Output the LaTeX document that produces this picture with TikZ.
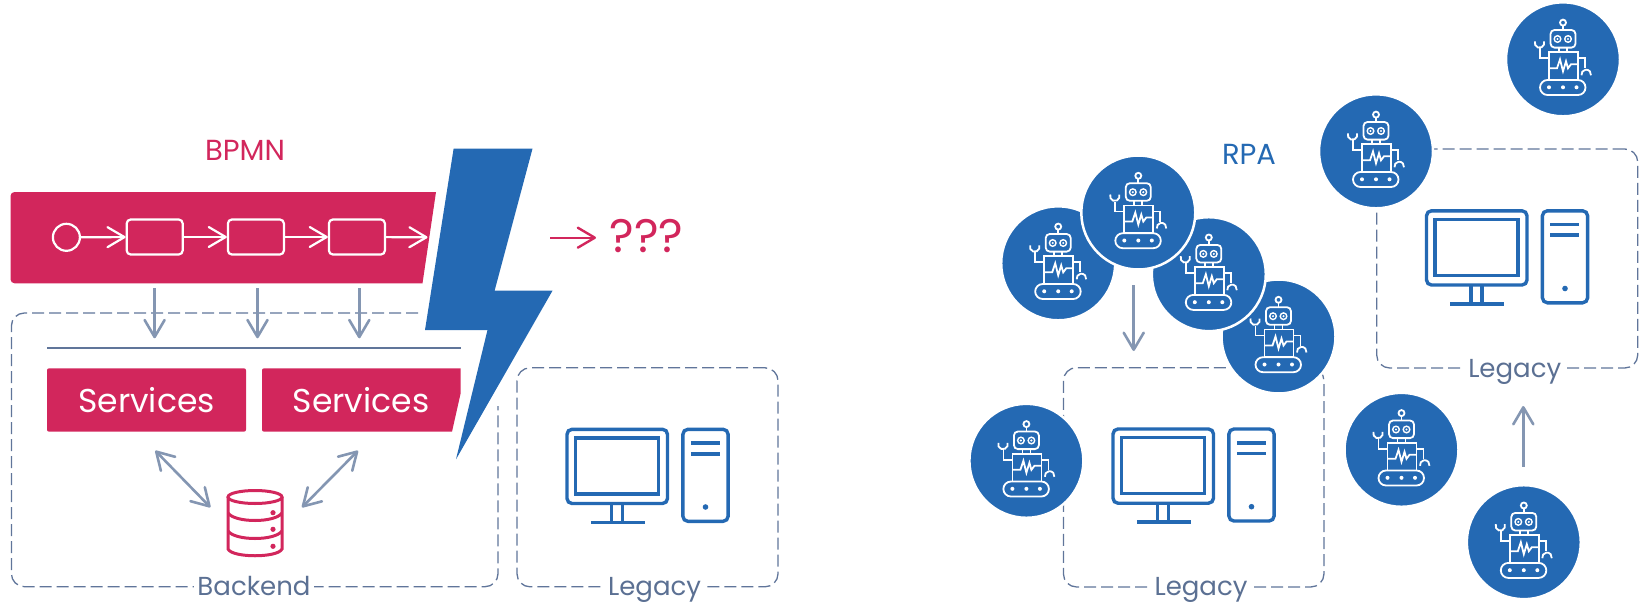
\documentclass[tikz,border=0pt]{standalone}
\usepackage{fontspec}
\setmainfont{Poppins}
\usetikzlibrary{arrows.meta}
\definecolor{bpmnred}{HTML}{D2265C}
\definecolor{rpablue}{HTML}{2469B3}
\definecolor{slateline}{HTML}{8496B2}
\definecolor{slatetext}{HTML}{5B7093}
\definecolor{slatedash}{HTML}{60759A}
\tikzset{
    barb/.style={-{Straight Barb[length=17pt,width=20pt,round]}},
    flow/.style={barb, white, line width=2.2pt},
    link/.style={slateline, line width=2.6pt},
    dashbox/.style={slatedash, line width=1.3pt, dash pattern=on 12pt off 5pt, rounded corners=13pt},
    taskbox/.style={draw=white, line width=2.2pt, rounded corners=4pt, minimum width=56pt, minimum height=35pt, inner sep=0pt},
    caption/.style={fill=white, text=slatetext, font=\fontsize{26}{26}\selectfont, anchor=base, inner sep=3pt},
    robot/.pic={
        \draw[draw=white, fill=rpablue, line width=2.5pt] (0,0) circle (57pt);
        \begin{scope}[white, line width=1.8pt]
            \draw (0,-36.7) circle (3pt);
            \draw (0,-33.7) -- (0,-29.3);
            \draw[rounded corners=4pt] (-12.5,-29.3) rectangle (12.5,-11.7);
            \draw[line width=1.4pt] (-5.5,-20.3) circle (3.3pt) (5,-20.3) circle (3.3pt);
            \fill (-5.5,-20.3) circle (1.2pt) (5,-20.3) circle (1.2pt);
            \draw (-4,-11.7) -- (-4,-7) (4,-11.7) -- (4,-7);
            \draw (-14,-7) rectangle (15,20.7);
            \draw (-14,9) -- (-6,9) -- (-3,0) -- (0,12) -- (3,2) -- (5,9) -- (8,5) -- (15,5);
            \draw[rounded corners=7.5pt] (-23,20.7) rectangle (22.5,35.7);
            \fill (-14,28) circle (2pt) (0,28) circle (2pt) (13.5,28) circle (2pt);
            \draw (-14,-1) -- (-23,-1) -- (-23,-11);
            \draw (-28,-18) arc[start angle=200, end angle=-20, radius=4.8];
            \draw (15,-1) -- (22,-1) -- (22,9);
            \draw (18.5,16) arc[start angle=170, end angle=370, radius=4.8];
        \end{scope}
    },
    computer/.pic={
        \begin{scope}[rpablue, line width=3.4pt]
            \draw[rounded corners=5pt] (1.5,1.5) rectangle (102,75.7);
            \draw (10,10) rectangle (93,66);
            \draw (46,75.7) -- (46,94.5) (57,75.7) -- (57,94.5);
            \draw (25.3,94.5) -- (79.2,94.5);
            \draw[rounded corners=5pt] (117.4,1.5) rectangle (162.6,93.5);
            \draw[line width=3.6pt] (125.3,15.2) -- (154.3,15.2) (125.3,25.9) -- (154.3,25.9);
            \fill (140,79.2) circle (2.8pt);
        \end{scope}
    }
}
\begin{document}
\begin{tikzpicture}[x=1pt, y=-1pt]
    \useasboundingbox (0,0) rectangle (1644,605);

    \fill[bpmnred, rounded corners=4pt] (10.5,192) -- (300,192) [sharp corners] -- (436,192) -- (422.5,283.3) [rounded corners=4pt] -- (10.5,283.3) -- cycle;
    \node[bpmnred, font=\fontsize{29}{29}\selectfont, anchor=base] (bpmn) at (245,160.5) {BPMN};

    \node[draw=white, line width=2.2pt, circle, minimum size=27pt, inner sep=0pt] (start) at (66.4,237.3) {};
    \node[taskbox] (task1) at (154.7,237) {};
    \node[taskbox] (task2) at (255.9,237) {};
    \node[taskbox] (task3) at (356.9,237) {};
    \coordinate (flowend) at (427.5,237.3);
    \draw[flow] (start) -- (task1);
    \draw[flow] (task1) -- (task2);
    \draw[flow] (task2) -- (task3);
    \draw[flow] (task3) -- (flowend);

    \draw[dashbox] (418,313) -- (11.4,313) -- (11.4,586.7) -- (498,586.7) -- (498,406);
    \node[caption] (backend) at (254,595.7) {Backend};

    \foreach \n/\x in {a/154.6, b/257.5, c/359.3} {
        \coordinate (from\n) at (\x,288.3);
        \coordinate (to\n) at (\x,338.3);
        \draw[link, barb] (from\n) -- (to\n);
    }

    \coordinate (rulel) at (47,348);
    \coordinate (ruler) at (460.7,348);
    \draw[slatedash, line width=2.4pt] (rulel) -- (ruler);

    \fill[bpmnred, rounded corners=2pt] (47,368.3) rectangle (246,431.7);
    \fill[bpmnred, rounded corners=2pt] (262,368.3) -- (400,368.3) [sharp corners] -- (460.7,368.3) -- (460.7,393) -- (452,431.7) [rounded corners=2pt] -- (262,431.7) -- cycle;
    \node[white, font=\fontsize{33}{33}\selectfont, anchor=base] (svc1) at (146.5,412) {Services};
    \node[white, font=\fontsize{33}{33}\selectfont, anchor=base] (svc2) at (361,412) {Services};

    \coordinate (dbl) at (210.4,507.3);
    \coordinate (dbr) at (302,507.3);
    \coordinate (svcl) at (155.3,450.7);
    \coordinate (svcr) at (358,450.7);
    \draw[link, {Straight Barb[length=17pt,width=20pt,round]}-{Straight Barb[length=17pt,width=20pt,round]}] (svcl) -- (dbl);
    \draw[link, {Straight Barb[length=17pt,width=20pt,round]}-{Straight Barb[length=17pt,width=20pt,round]}] (svcr) -- (dbr);

    \begin{scope}[bpmnred, line width=3pt]
        \draw (255,497) ellipse (27pt and 6.5pt);
        \draw (228,497) -- (228,549) .. controls (232,558) and (278,558) .. (282,549) -- (282,497);
        \draw (228,513) .. controls (235,523) and (275,523) .. (282,513);
        \draw (228,531) .. controls (235,541) and (275,541) .. (282,531);
        \fill (273,512.7) circle (2.6pt) (273,529.3) circle (2.6pt) (273,546.3) circle (2.6pt);
    \end{scope}

    \fill[rpablue] (453.6,148.7) -- (532.5,148.7) -- (494.6,290.7) -- (552.5,290.7) -- (456,459.3) -- (487.5,330) -- (425,330) -- cycle;

    \coordinate (warnl) at (550,237.7);
    \coordinate (warnr) at (596,237.7);
    \draw[barb, bpmnred, line width=2.4pt] (warnl) -- (warnr);
    \node[bpmnred, font=\fontsize{47}{47}\selectfont, anchor=base] (unknown) at (646.5,252.5) {???};

    \node[dashbox, draw, minimum width=261pt, minimum height=219pt, inner sep=0pt] (legacy1) at (647.5,477.3) {};
    \node[caption] (legacy1txt) at (654.6,595.7) {Legacy};
    \pic at (565.5,427.8) {computer};

    \node[dashbox, draw, minimum width=260.5pt, minimum height=219.3pt, inner sep=0pt] (legacy2) at (1193.7,477.3) {};
    \node[caption] (legacy2txt) at (1201,595.7) {Legacy};
    \pic at (1111.5,427.5) {computer};

    \node[dashbox, draw, minimum width=261pt, minimum height=219pt, inner sep=0pt] (legacy3) at (1507.2,258.5) {};
    \node[caption] (legacy3txt) at (1514.7,377) {Legacy};
    \pic at (1425,209.3) {computer};

    \node[rpablue, font=\fontsize{29}{29}\selectfont, anchor=base] (rpa) at (1249,164) {RPA};

    \foreach \x/\y in {1278.5/336.5, 1208.8/274.2, 1058.2/263.3, 1138.3/212.5, 1026.4/460.8, 1401.5/449.8, 1523.8/542.2, 1563/59.3, 1376/151.3} {
        \pic at (\x,\y) {robot};
    }

    \coordinate (downa) at (1133.7,285);
    \coordinate (downb) at (1133.7,351);
    \coordinate (upa) at (1523.3,466.7);
    \coordinate (upb) at (1523.3,406);
    \draw[link, barb] (downa) -- (downb);
    \draw[link, barb] (upa) -- (upb);
\end{tikzpicture}
\end{document}
